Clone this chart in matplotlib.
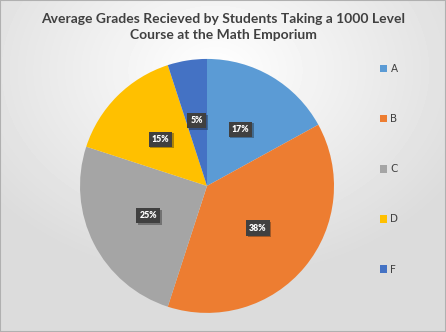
import numpy as np
import matplotlib
matplotlib.use("Agg")
import matplotlib.pyplot as plt
from matplotlib.patches import Patch, Rectangle
import matplotlib.patheffects as pe

grades = ["A", "B", "C", "D", "F"]
shares = [17, 38, 25, 15, 5]
colors = ["#5B9BD5", "#ED7D31", "#A5A5A5", "#FFC000", "#4472C4"]
title = "Average Grades Recieved by Students Taking a 1000 Level\nCourse at the Math Emporium"

fig = plt.figure(figsize=(4.46, 3.32), dpi=100)

# soft radial background
bg = fig.add_axes([0, 0, 1, 1], zorder=-5)
yy, xx = np.mgrid[0:332, 0:446]
d = np.sqrt(((xx - 215) / 446.0) ** 2 + ((yy - 70) / 332.0) ** 2)
shade = np.clip(1.0 - 0.22 * d, 0.86, 1.0)
bg.imshow(shade, cmap="gray", vmin=0, vmax=1, aspect="auto", extent=[0, 1, 0, 1])
bg.add_patch(Rectangle((0, 0), 1, 1, transform=bg.transAxes, fill=False,
                       edgecolor="#b0b0b0", lw=1.5))
bg.set_axis_off()

fig.text(0.5, 0.962, title, ha="center", va="top", fontsize=10,
         fontweight="bold", color="#404040", family="Lato", linespacing=1.45)

ax = fig.add_axes([0.1794, 0.0575, 0.5695, 0.765])
wedges, texts, autotexts = ax.pie(
    shares, colors=colors, startangle=90, counterclock=False,
    autopct="%d%%", pctdistance=0.52,
    wedgeprops=dict(linewidth=0),
    textprops=dict(color="white", fontsize=6.3, fontweight="heavy", family="Lato"),
)
for t in autotexts:
    t.set_bbox(dict(boxstyle="square,pad=0.35", facecolor="#404040", edgecolor="none"))
    t.get_bbox_patch().set_path_effects([
        pe.SimplePatchShadow(offset=(1.2, -1.2), alpha=0.35), pe.Normal()])
ax.set_xlim(-1, 1)
ax.set_ylim(-1, 1)
ax.set_aspect("equal")

handles = [Patch(facecolor=c, edgecolor="none") for c in colors]
leg = fig.legend(handles, grades, loc="upper left", bbox_to_anchor=(0.83, 0.835),
                 frameon=False, fontsize=7.5, labelspacing=3.85,
                 handlelength=0.75, handleheight=0.75, handletextpad=0.3)
for t in leg.get_texts():
    t.set_color("#404040")

fig.savefig("out.png", dpi=100)
